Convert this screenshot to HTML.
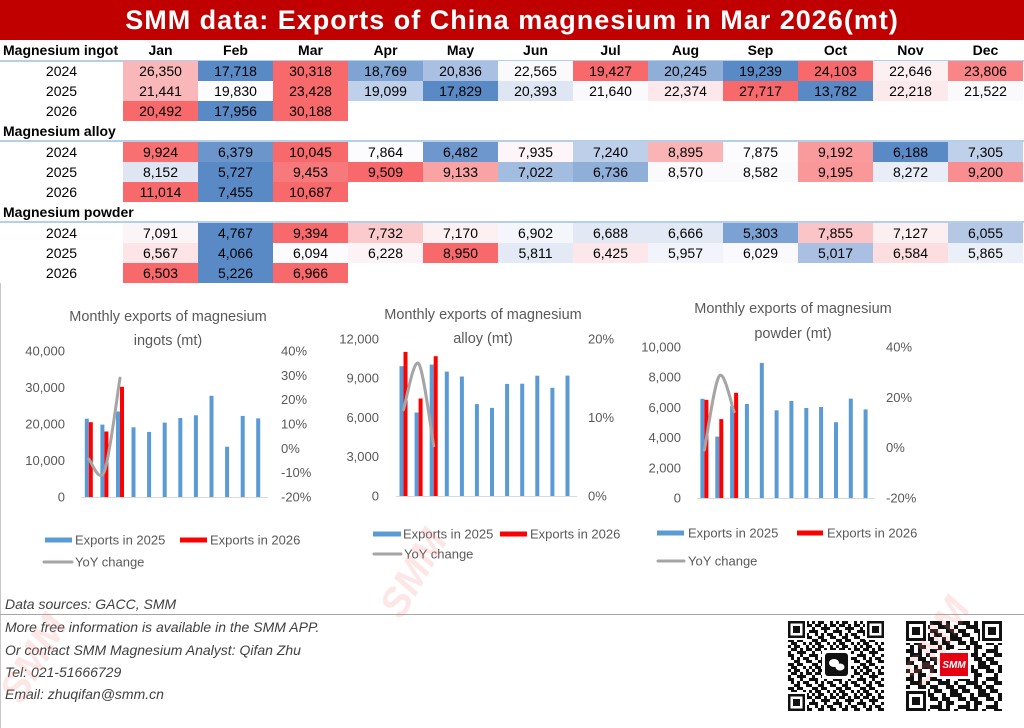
<!DOCTYPE html>
<html><head><meta charset="utf-8">
<style>
*{margin:0;padding:0;box-sizing:border-box}
html{width:1024px;height:728px;overflow:hidden}
body{width:1024px;height:728px;background:#fff;position:relative;overflow:hidden;font-family:"Liberation Sans",sans-serif;color:#000}
.title{position:absolute;left:0;top:0;width:1024px;height:40px;background:#C00000;color:#fff;font-weight:bold;font-size:27px;letter-spacing:1px;text-align:center;line-height:40px}
.row{position:absolute;left:0;width:1024px;height:20px;display:flex;font-size:14px;line-height:20px}
.row div{width:75px;text-align:center;flex:none}
.row div.l{width:123px}
.hdr{font-weight:bold;font-size:14px}
.hdr div.l{text-align:left;padding-left:3px}
.lab{position:absolute;left:3px;font-weight:bold;font-size:14px;line-height:20px}
.ln{position:absolute;left:0;width:1024px;height:2px;background:#B4CFEA}
.ft{position:absolute;left:5px;font-style:italic;font-size:14px;color:#404040;line-height:20px}
svg{position:absolute;left:0;top:0;overflow:hidden}
</style></head><body>
<div class="title">SMM data: Exports of China magnesium in Mar 2026(mt)</div>

<div class="row hdr" style="top:40px"><div class="l">Magnesium ingot</div><div>Jan</div><div>Feb</div><div>Mar</div><div>Apr</div><div>May</div><div>Jun</div><div>Jul</div><div>Aug</div><div>Sep</div><div>Oct</div><div>Nov</div><div>Dec</div></div>
<div class="ln" style="top:59.5px"></div>
<div class="row" style="top:61px"><div class="l">2024</div><div style="background:#FAB7B9">26,350</div><div style="background:#5A8AC6">17,718</div><div style="background:#F8696B">30,318</div><div style="background:#7FA3D3">18,769</div><div style="background:#A9C0E2">20,836</div><div style="background:#FAFAFD">22,565</div><div style="background:#F8696B">19,427</div><div style="background:#8FAFD9">20,245</div><div style="background:#5A8AC6">19,239</div><div style="background:#F8696B">24,103</div><div style="background:#FCF0F3">22,646</div><div style="background:#F98587">23,806</div></div>
<div class="row" style="top:81px"><div class="l">2025</div><div style="background:#FAB7B9">21,441</div><div style="background:#FCFCFF">19,830</div><div style="background:#F8696B">23,428</div><div style="background:#BFD0EA">19,099</div><div style="background:#5A8AC6">17,829</div><div style="background:#DFE6F3">20,393</div><div style="background:#FAFAFD">21,640</div><div style="background:#FCE8EB">22,374</div><div style="background:#F8696B">27,717</div><div style="background:#5A8AC6">13,782</div><div style="background:#FCE9EC">22,218</div><div style="background:#FAFAFD">21,522</div></div>
<div class="row" style="top:101px"><div class="l">2026</div><div style="background:#F8696B">20,492</div><div style="background:#5A8AC6">17,956</div><div style="background:#F8696B">30,188</div></div>

<div class="lab" style="top:121px">Magnesium alloy</div>
<div class="ln" style="top:140px"></div>
<div class="row" style="top:142px"><div class="l">2024</div><div style="background:#F87072">9,924</div><div style="background:#6C95CC">6,379</div><div style="background:#F8696B">10,045</div><div style="background:#FCFCFF">7,864</div><div style="background:#6E97CD">6,482</div><div style="background:#FDF5F7">7,935</div><div style="background:#BDCFE9">7,240</div><div style="background:#FAB4B6">8,895</div><div style="background:#FCFCFF">7,875</div><div style="background:#F99B9D">9,192</div><div style="background:#5A8AC6">6,188</div><div style="background:#BFD0EA">7,305</div></div>
<div class="row" style="top:162px"><div class="l">2025</div><div style="background:#DEE6F3">8,152</div><div style="background:#5A8AC6">5,727</div><div style="background:#F8797B">9,453</div><div style="background:#F8696B">9,509</div><div style="background:#F9A3A5">9,133</div><div style="background:#A3BDE0">7,022</div><div style="background:#8FAFD9">6,736</div><div style="background:#FAFAFD">8,570</div><div style="background:#FAFAFD">8,582</div><div style="background:#F99799">9,195</div><div style="background:#E8EDF7">8,272</div><div style="background:#F98E90">9,200</div></div>
<div class="row" style="top:182px"><div class="l">2026</div><div style="background:#F8696B">11,014</div><div style="background:#5A8AC6">7,455</div><div style="background:#F8696B">10,687</div></div>

<div class="lab" style="top:202px">Magnesium powder</div>
<div class="ln" style="top:221px"></div>
<div class="row" style="top:223px"><div class="l">2024</div><div style="background:#FCF5F8">7,091</div><div style="background:#5A8AC6">4,767</div><div style="background:#F8696B">9,394</div><div style="background:#FBCACC">7,732</div><div style="background:#FCF0F3">7,170</div><div style="background:#F4F6FC">6,902</div><div style="background:#E2E9F5">6,688</div><div style="background:#E2E9F5">6,666</div><div style="background:#7CA1D3">5,303</div><div style="background:#FBC5C7">7,855</div><div style="background:#FCEFF2">7,127</div><div style="background:#B4C8E6">6,055</div></div>
<div class="row" style="top:243px"><div class="l">2025</div><div style="background:#FCE4E7">6,567</div><div style="background:#5A8AC6">4,066</div><div style="background:#FCFCFF">6,094</div><div style="background:#FCF3F6">6,228</div><div style="background:#F8696B">8,950</div><div style="background:#E4EAF5">5,811</div><div style="background:#FCE8EB">6,425</div><div style="background:#F1F4FB">5,957</div><div style="background:#FAFAFE">6,029</div><div style="background:#A9C0E2">5,017</div><div style="background:#FCDDE0">6,584</div><div style="background:#EBEFF8">5,865</div></div>
<div class="row" style="top:263px"><div class="l">2026</div><div style="background:#F8696B">6,503</div><div style="background:#5A8AC6">5,226</div><div style="background:#F8696B">6,966</div></div>

<div class="ft" style="top:594px">Data sources: GACC, SMM</div>
<div class="ft" style="top:617px">More free information is available in the SMM APP.</div>
<div class="ft" style="top:640px">Or contact SMM Magnesium Analyst: Qifan Zhu</div>
<div class="ft" style="top:662px">Tel: 021-51666729</div>
<div class="ft" style="top:684px">Email: zhuqifan@smm.cn</div>

<svg width="1024" height="728" viewBox="0 0 1024 728" font-family="Liberation Sans, sans-serif">
<defs>
<pattern id="q1" x="788" y="621" width="24" height="24" patternUnits="userSpaceOnUse">
<g fill="#111">
<rect x="0" y="0" width="3" height="3"/><rect x="6" y="0" width="6" height="3"/><rect x="18" y="0" width="3" height="3"/>
<rect x="3" y="3" width="6" height="3"/><rect x="12" y="3" width="3" height="3"/><rect x="18" y="3" width="6" height="3"/>
<rect x="0" y="6" width="3" height="3"/><rect x="9" y="6" width="9" height="3"/>
<rect x="0" y="9" width="6" height="3"/><rect x="12" y="9" width="3" height="3"/><rect x="21" y="9" width="3" height="3"/>
<rect x="3" y="12" width="3" height="3"/><rect x="9" y="12" width="3" height="3"/><rect x="15" y="12" width="6" height="3"/>
<rect x="6" y="15" width="6" height="3"/><rect x="18" y="15" width="6" height="3"/>
<rect x="0" y="18" width="6" height="3"/><rect x="9" y="18" width="6" height="3"/>
<rect x="3" y="21" width="6" height="3"/><rect x="15" y="21" width="3" height="3"/><rect x="21" y="21" width="3" height="3"/>
</g></pattern>
<pattern id="q2" x="906" y="621" width="28" height="28" patternUnits="userSpaceOnUse">
<g fill="#111">
<rect x="0" y="0" width="8" height="4"/><rect x="12" y="0" width="4" height="4"/><rect x="24" y="0" width="4" height="4"/>
<rect x="4" y="4" width="12" height="4"/><rect x="20" y="4" width="4" height="4"/>
<rect x="0" y="8" width="4" height="4"/><rect x="12" y="8" width="8" height="4"/><rect x="24" y="8" width="4" height="4"/>
<rect x="0" y="12" width="8" height="4"/><rect x="16" y="12" width="8" height="4"/>
<rect x="8" y="16" width="4" height="4"/><rect x="16" y="16" width="12" height="4"/>
<rect x="0" y="20" width="4" height="4"/><rect x="8" y="20" width="8" height="4"/><rect x="24" y="20" width="4" height="4"/>
<rect x="4" y="24" width="4" height="4"/><rect x="12" y="24" width="8" height="4"/>
</g></pattern>
</defs>

<line x1="0.5" y1="283" x2="0.5" y2="728" stroke="#c8c8c8" stroke-width="1"/>
<line x1="0" y1="614.5" x2="1024" y2="614.5" stroke="#a6a6a6" stroke-width="1"/>

<g fill="#595959" font-size="14.5" text-anchor="middle">
<text x="168" y="321">Monthly exports of magnesium</text>
<text x="168" y="345">ingots (mt)</text>
<text x="483" y="319">Monthly exports of magnesium</text>
<text x="483" y="343">alloy (mt)</text>
<text x="793" y="313">Monthly exports of magnesium</text>
<text x="793" y="338">powder (mt)</text>
</g>
<g fill="#595959" font-size="13" text-anchor="end">
<text x="65" y="355.5">40,000</text><text x="65" y="392">30,000</text><text x="65" y="428.5">20,000</text><text x="65" y="465">10,000</text><text x="65" y="501.5">0</text>
<text x="379" y="343.5">12,000</text><text x="379" y="382.7">9,000</text><text x="379" y="422">6,000</text><text x="379" y="461.2">3,000</text><text x="379" y="500.5">0</text>
<text x="681" y="351.5">10,000</text><text x="681" y="381.7">8,000</text><text x="681" y="411.9">6,000</text><text x="681" y="442.1">4,000</text><text x="681" y="472.3">2,000</text><text x="681" y="502.5">0</text>
</g>
<g fill="#595959" font-size="13" text-anchor="start">
<text x="281" y="355.5">40%</text><text x="281" y="379.8">30%</text><text x="281" y="404.2">20%</text><text x="281" y="428.5">10%</text><text x="281" y="452.8">0%</text><text x="281" y="477.2">-10%</text><text x="281" y="501.5">-20%</text>
<text x="588" y="343.5">20%</text><text x="588" y="422">10%</text><text x="588" y="500.5">0%</text>
<text x="886" y="351.5">40%</text><text x="886" y="401.8">20%</text><text x="886" y="452.2">0%</text><text x="886" y="502.5">-20%</text>
</g>
<g stroke="#d9d9d9" stroke-width="1">
<line x1="81" y1="497.5" x2="268" y2="497.5"/>
<line x1="396" y1="496.5" x2="577" y2="496.5"/>
<line x1="697" y1="498.5" x2="875" y2="498.5"/>
</g>
<g fill="#5B9BD5">
<rect x="84.8" y="418.7" width="4" height="78.3"/><rect x="100.4" y="424.6" width="4" height="72.4"/><rect x="116" y="411.5" width="4" height="85.5"/>
<rect x="131.5" y="427.3" width="4" height="69.7"/><rect x="147.1" y="431.9" width="4" height="65.1"/><rect x="162.7" y="422.6" width="4" height="74.4"/>
<rect x="178.3" y="418" width="4" height="79"/><rect x="193.9" y="415.3" width="4" height="81.7"/><rect x="209.5" y="395.8" width="4" height="101.2"/>
<rect x="225.1" y="446.7" width="4" height="50.3"/><rect x="240.7" y="415.9" width="4" height="81.1"/><rect x="256.2" y="418.4" width="4" height="78.6"/>
<rect x="399.5" y="366.2" width="4" height="129.8"/><rect x="414.6" y="412.5" width="4" height="83.5"/><rect x="429.7" y="364.6" width="4" height="131.4"/>
<rect x="444.8" y="371.6" width="4" height="124.4"/><rect x="459.9" y="376.5" width="4" height="119.5"/><rect x="474.9" y="404.1" width="4" height="91.9"/>
<rect x="490" y="407.9" width="4" height="88.1"/><rect x="505.1" y="383.9" width="4" height="112.1"/><rect x="520.2" y="383.7" width="4" height="112.3"/>
<rect x="535.3" y="375.7" width="4" height="120.3"/><rect x="550.4" y="387.8" width="4" height="108.2"/><rect x="565.5" y="375.6" width="4" height="120.4"/>
<rect x="700.4" y="398.8" width="4" height="99.2"/><rect x="715.3" y="436.6" width="4" height="61.4"/><rect x="730.1" y="406" width="4" height="92"/>
<rect x="744.9" y="404" width="4" height="94"/><rect x="759.8" y="362.9" width="4" height="135.1"/><rect x="774.6" y="410.3" width="4" height="87.7"/>
<rect x="789.4" y="401" width="4" height="97"/><rect x="804.3" y="408" width="4" height="90"/><rect x="819.1" y="407" width="4" height="91"/>
<rect x="834" y="422.2" width="4" height="75.8"/><rect x="848.8" y="398.6" width="4" height="99.4"/><rect x="863.6" y="409.4" width="4" height="88.6"/>
</g>
<g fill="#FF0000">
<rect x="88.8" y="422.2" width="4" height="74.8"/><rect x="104.4" y="431.5" width="4" height="65.5"/><rect x="120" y="386.8" width="4" height="110.2"/>
<rect x="403.5" y="351.9" width="4" height="144.1"/><rect x="418.6" y="398.5" width="4" height="97.5"/><rect x="433.7" y="356.2" width="4" height="139.8"/>
<rect x="704.4" y="399.8" width="4" height="98.2"/><rect x="719.3" y="419.1" width="4" height="78.9"/><rect x="734.1" y="392.8" width="4" height="105.2"/>
</g>
<g fill="none" stroke="#A5A5A5" stroke-width="3" stroke-linecap="round">
<path d="M88.8,459.1 C91.4,461.1 99.2,484.8 104.4,471.3 C109.6,457.8 117.4,393.6 120,378.1"/>
<path d="M403.5,409.8 C406,402.1 413.6,357.6 418.6,363.6 C423.6,369.6 431.2,432.1 433.7,445.8"/>
<path d="M704.4,450.1 C706.9,437.7 714.35,382.3 719.3,375.9 C724.25,369.5 731.6,405.7 734.1,411.7"/>
</g>
<g fill="#5B9BD5"><rect x="45" y="537.5" width="27" height="5"/><rect x="373" y="531.5" width="28" height="5"/><rect x="657" y="530.5" width="27" height="5"/></g>
<g fill="#FF0000"><rect x="180" y="537.5" width="27" height="5"/><rect x="500" y="531.5" width="27" height="5"/><rect x="797" y="530.5" width="26" height="5"/></g>
<g stroke="#A5A5A5" stroke-width="3" stroke-linecap="round">
<line x1="44" y1="562" x2="72" y2="562"/><line x1="374" y1="554" x2="401" y2="554"/><line x1="658" y1="561" x2="684" y2="561"/>
</g>
<g fill="#595959" font-size="13">
<text x="75" y="544.5">Exports in 2025</text><text x="210" y="544.5">Exports in 2026</text><text x="75" y="566.5">YoY change</text>
<text x="403" y="538.5">Exports in 2025</text><text x="530" y="538.5">Exports in 2026</text><text x="404" y="558.5">YoY change</text>
<text x="688" y="537.5">Exports in 2025</text><text x="827" y="537.5">Exports in 2026</text><text x="688" y="565.5">YoY change</text>
</g>

<rect x="788" y="621" width="96" height="90" fill="url(#q1)"/>
<g>
<rect x="787" y="620" width="20" height="20" fill="#fff"/><rect x="788" y="621" width="17" height="17" fill="#111"/><rect x="790.5" y="623.5" width="12" height="12" fill="#fff"/><rect x="793" y="626" width="7" height="7" fill="#111"/>
<rect x="865" y="620" width="20" height="20" fill="#fff"/><rect x="867" y="621" width="17" height="17" fill="#111"/><rect x="869.5" y="623.5" width="12" height="12" fill="#fff"/><rect x="872" y="626" width="7" height="7" fill="#111"/>
<rect x="787" y="692" width="20" height="20" fill="#fff"/><rect x="788" y="694" width="17" height="17" fill="#111"/><rect x="790.5" y="696.5" width="12" height="12" fill="#fff"/><rect x="793" y="699" width="7" height="7" fill="#111"/>
<rect x="822" y="650" width="29" height="29" fill="#fff"/>
<rect x="825" y="653" width="23" height="23" rx="3" fill="#111"/>
<ellipse cx="834" cy="663" rx="5" ry="4" fill="#fff"/><ellipse cx="840" cy="667" rx="4.5" ry="3.5" fill="#fff"/>
</g>
<rect x="906" y="621" width="96" height="90" fill="url(#q2)"/>
<g>
<rect x="905" y="620" width="23" height="23" fill="#fff"/><rect x="906" y="621" width="20" height="20" fill="#111"/><rect x="909" y="624" width="14" height="14" fill="#fff"/><rect x="912" y="627" width="8" height="8" fill="#111"/>
<rect x="980" y="620" width="23" height="23" fill="#fff"/><rect x="982" y="621" width="20" height="20" fill="#111"/><rect x="985" y="624" width="14" height="14" fill="#fff"/><rect x="988" y="627" width="8" height="8" fill="#111"/>
<rect x="905" y="689" width="23" height="23" fill="#fff"/><rect x="906" y="691" width="20" height="20" fill="#111"/><rect x="909" y="694" width="14" height="14" fill="#fff"/><rect x="912" y="697" width="8" height="8" fill="#111"/>
<rect x="937" y="650" width="34" height="29" fill="#fff"/>
<rect x="940" y="653" width="28" height="23" fill="#E60012"/>
<text x="954" y="668" font-size="10" font-weight="bold" font-style="italic" fill="#fff" text-anchor="middle">SMM</text>
</g>

<g fill="#F08080" opacity="0.2" font-weight="bold" font-style="italic" font-size="40" text-anchor="middle">
<text transform="translate(425,580) rotate(-60)">SMM</text>
<text transform="translate(45,665) rotate(-60)">SMM</text>
<text transform="translate(948,648) rotate(-60)">SMM</text>
</g>
</svg>
</body></html>
